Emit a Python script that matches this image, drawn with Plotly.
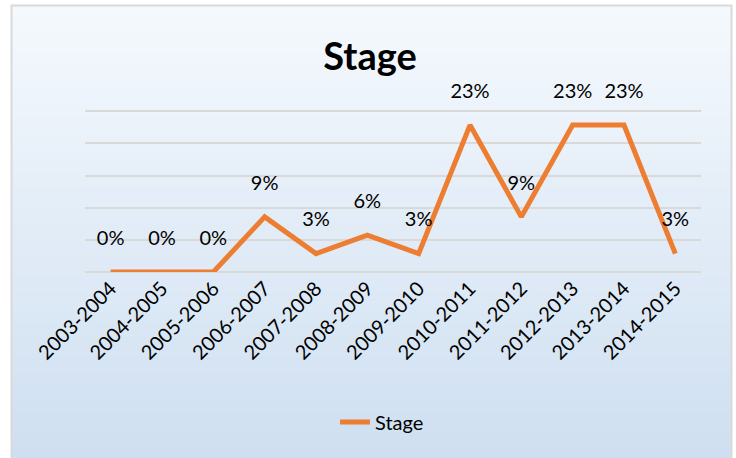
import plotly.graph_objects as go

categories = ["2003-2004", "2004-2005", "2005-2006", "2006-2007", "2007-2008", "2008-2009",
              "2009-2010", "2010-2011", "2011-2012", "2012-2013", "2013-2014", "2014-2015"]
counts = [0, 0, 0, 3, 1, 2, 1, 8, 3, 8, 8, 1]
total = 35
values = [c / total for c in counts]
labels = [f"{round(v * 100)}%" for v in values]
series_name = "Stage"

W, H = 736, 458
YMAX = 0.252
ML, MR, MB = 85, 35, 186
MT = 111 - round((YMAX - 0.25) * (161 / 0.25))
PW, PH = W - ML - MR, H - MT - MB
FONT = "Lato, Open Sans, sans-serif"

def px2paper_x(px):
    return (px - ML) / PW

def px2paper_y(py):
    return (H - MB - py) / PH

# gradient background via strips
shapes = []
top_c = (245, 249, 253)
bot_c = (206, 223, 241)
y0p, y1p = 6, 458
n = 90
for i in range(n):
    a = y0p + (y1p - y0p) * i / n
    b = y0p + (y1p - y0p) * (i + 1) / n
    t = (i + 0.5) / n
    col = tuple(round(top_c[k] + (bot_c[k] - top_c[k]) * t) for k in range(3))
    shapes.append(dict(type="rect", xref="paper", yref="paper", layer="below",
                       x0=px2paper_x(12), x1=px2paper_x(731),
                       y0=px2paper_y(b + 0.5), y1=px2paper_y(a),
                       fillcolor=f"rgb{col}", line=dict(width=0)))
# frame border
shapes.append(dict(type="rect", xref="paper", yref="paper", layer="below",
                   x0=px2paper_x(11.5), x1=px2paper_x(731.5),
                   y0=px2paper_y(470), y1=px2paper_y(5.5),
                   fillcolor="rgba(0,0,0,0)", line=dict(color="#d9d9d9", width=2)))

fig = go.Figure()
fig.add_trace(go.Scatter(
    x=categories, y=values, mode="lines+markers+text", name=series_name,
    line=dict(color="#ed7d31", width=5),
    marker=dict(size=34, color="rgba(0,0,0,0)", line=dict(width=0)),
    text=labels, textposition="top center",
    textfont=dict(family=FONT, size=20, color="#000000"),
    cliponaxis=False, hoverinfo="x+y",
))

fig.update_layout(
    width=W, height=H,
    margin=dict(l=ML, r=MR, t=MT, b=MB),
    paper_bgcolor="white", plot_bgcolor="rgba(0,0,0,0)",
    shapes=shapes,
    title=dict(text="<b>Stage</b>", x=px2paper_x(370), xref="paper", xanchor="center",
               y=1 - 57 / H, yanchor="middle",
               font=dict(family=FONT, size=38, color="#000000")),
    xaxis=dict(type="category", tickangle=-45, showgrid=False, showline=False, ticks="",
               tickfont=dict(family=FONT, size=20, color="#000000"),
               range=[-0.5, len(categories) - 0.5]),
    yaxis=dict(range=[0, YMAX], dtick=0.05, showticklabels=False, gridcolor="#d9d9d9",
               gridwidth=1.5, zeroline=True, zerolinecolor="#d9d9d9", zerolinewidth=1.5,
               showline=False, ticks=""),
    showlegend=True,
    legend=dict(orientation="h", x=px2paper_x(382), xanchor="center",
                y=px2paper_y(422), yanchor="middle",
                font=dict(family=FONT, size=20, color="#000000"),
                bgcolor="rgba(0,0,0,0)", itemsizing="constant"),
)

fig.write_html("out.html", config={"displayModeBar": False},
               post_script="document.body.style.margin='0';document.body.style.overflow='hidden';")
